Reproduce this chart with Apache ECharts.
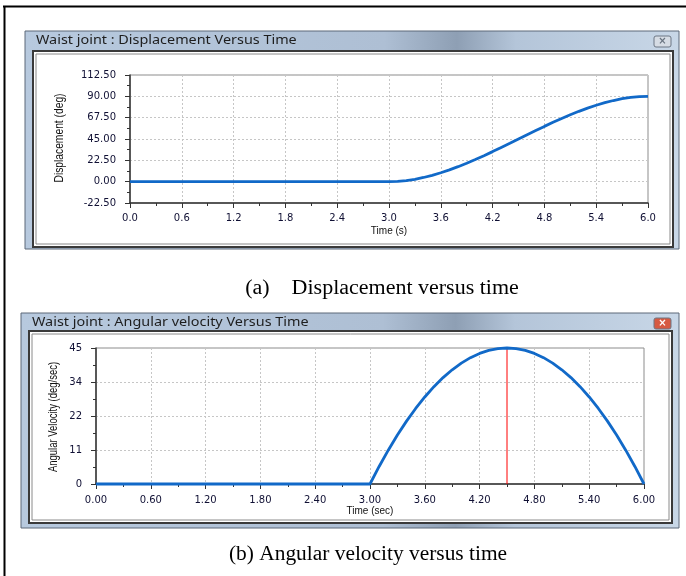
<!DOCTYPE html>
<html>
<head>
<meta charset="utf-8">
<script src="https://cdn.jsdelivr.net/npm/echarts@6/dist/echarts.min.js"></script>
<style>
  html, body { margin: 0; padding: 0; background: #fff; }
  #chart { width: 686px; height: 576px; }
</style>
</head>
<body>
<div id="chart"></div>
<script>
// time samples (s)
const timeA = [0, 3.0, 3.1, 3.2, 3.3, 3.4, 3.5, 3.6, 3.7, 3.8, 3.9, 4.0, 4.1, 4.2, 4.3, 4.4, 4.5,
  4.6, 4.7, 4.8, 4.9, 5.0, 5.1, 5.2, 5.3, 5.4, 5.5, 5.6, 5.7, 5.8, 5.9, 6.0];
// displacement (deg)
const displacement = [0, 0, 0.3, 1.2, 2.5, 4.4, 6.7, 9.4, 12.4, 15.8, 19.4, 23.3, 27.4, 31.7, 36.1, 40.5, 45.0,
  49.5, 53.9, 58.3, 62.6, 66.7, 70.6, 74.2, 77.6, 80.6, 83.3, 85.6, 87.5, 88.8, 89.7, 90.0];
// angular velocity (deg/sec)
const velocity = [0, 0, 5.8, 11.2, 16.2, 20.8, 25.0, 28.8, 32.2, 35.2, 37.8, 40.0, 41.8, 43.2, 44.2, 44.8, 45.0,
  44.8, 44.2, 43.2, 41.8, 40.0, 37.8, 35.2, 32.2, 28.8, 25.0, 20.8, 16.2, 11.2, 5.8, 0];
// red cursor at the velocity peak
const cursorTime = [4.5, 4.5];
const cursorValue = [0, 45];
const velTickLabels = ['0', '11', '22', '34', '45'];

const dispData = timeA.map((t, i) => [t, displacement[i]]);
const velData = timeA.map((t, i) => [t, velocity[i]]);
const cursorData = cursorTime.map((t, i) => [t, cursorValue[i]]);

const labelFont = { color: '#101034', fontSize: 10, fontFamily: 'DejaVu Sans' };
const gridLine = { show: true, lineStyle: { color: '#c6c6c6', type: [2, 2], width: 1 } };
const axisDark = { show: true, onZero: false, lineStyle: { color: '#333', width: 1.5 } };
const tick = { show: true, length: 5, lineStyle: { color: '#333' } };
const minor = { show: true, splitNumber: 2, length: 3, lineStyle: { color: '#333' } };

const titleBar = {
  type: 'linear', x: 0, y: 0, x2: 1, y2: 0,
  colorStops: [
    { offset: 0, color: '#b7c9de' },
    { offset: 0.55, color: '#aebfd4' },
    { offset: 0.66, color: '#8e9fb4' },
    { offset: 0.75, color: '#b4c5d9' },
    { offset: 1, color: '#c8d7e7' }
  ]
};

// window frame built from graphic elements
function windowFrame(x, y, w, h, panel, title, closeColor, crossColor) {
  return [
    { type: 'rect', z: -10, shape: { x: x, y: y, width: w, height: h },
      style: { fill: titleBar, stroke: '#5d6878', lineWidth: 1 } },
    { type: 'rect', z: -9, shape: panel,
      style: { fill: '#fff', stroke: '#3a3a3a', lineWidth: 2 } },
    { type: 'rect', z: -9, shape: { x: panel.x + 3, y: panel.y + 3, width: panel.width - 6, height: panel.height - 6 },
      style: { fill: 'none', stroke: '#8a8a8a', lineWidth: 1 } },
    { type: 'text', z: -8, x: x + 11, y: y + 10, scaleX: 1.2,
      style: { text: title, fill: '#1e1e1e', font: '12px "Noto Sans"', verticalAlign: 'middle' } },
    { type: 'rect', z: -8, shape: { x: x + w - 25, y: y + 5, width: 17, height: 11, r: 2 },
      style: { fill: closeColor, stroke: '#6c7684', lineWidth: 1 } },
    { type: 'text', z: -7, x: x + w - 16.5, y: y + 10.5,
      style: { text: '×', fill: crossColor, font: 'bold 10px "DejaVu Sans"', align: 'center', verticalAlign: 'middle' } }
  ];
}

// rotated, condensed axis title
function vName(text, x, y, sx) {
  return { type: 'text', z: 5, x: x, y: y, rotation: Math.PI / 2, scaleX: sx,
    style: { text: text, fill: '#111', font: '13px "Liberation Sans"', align: 'center', verticalAlign: 'middle' } };
}

const chart = echarts.init(document.getElementById('chart'));

const option = {
  backgroundColor: '#fff',
  animation: false,
  graphic: [
    { type: 'line', z: -10, shape: { x1: 3, y1: 6.5, x2: 686, y2: 6.5 }, style: { stroke: '#000', lineWidth: 2 } },
    { type: 'line', z: -10, shape: { x1: 4.5, y1: 6, x2: 4.5, y2: 576 }, style: { stroke: '#000', lineWidth: 2 } },
    ...windowFrame(25, 31, 654, 218, { x: 33, y: 51, width: 640, height: 196 },
      'Waist joint : Displacement Versus Time', '#d6dce4', '#6a7480'),
    ...windowFrame(21, 313, 658, 215, { x: 29, y: 331, width: 643, height: 192 },
      'Waist joint : Angular velocity Versus Time', '#d65a42', '#fff'),
    vName('Displacement (deg)', 59, 138, 0.79),
    vName('Angular Velocity (deg/sec)', 53, 417, 0.73),
    { type: 'text', z: -8, x: 382, y: 289, scaleX: 1.1,
      style: { text: '(a)    Displacement versus time', fill: '#000', font: '20px "Liberation Serif"',
        align: 'center', verticalAlign: 'middle' } },
    { type: 'text', z: -8, x: 368, y: 555, scaleX: 1.07,
      style: { text: '(b) Angular velocity versus time', fill: '#000', font: '20px "Liberation Serif"',
        align: 'center', verticalAlign: 'middle' } }
  ],
  grid: [
    { left: 130, right: 38, top: 75, height: 128, show: true, backgroundColor: 'transparent',
      borderColor: '#8c8c8c', borderWidth: 1 },
    { left: 96, right: 42, top: 348, height: 136, show: true, backgroundColor: 'transparent',
      borderColor: '#8c8c8c', borderWidth: 1 }
  ],
  xAxis: [
    { type: 'value', gridIndex: 0, min: 0, max: 6, interval: 0.6,
      name: 'Time (s)', nameLocation: 'middle', nameGap: 23,
      nameTextStyle: { color: '#111', fontSize: 10, fontFamily: 'Liberation Sans' },
      axisLine: axisDark, axisTick: tick, minorTick: minor, splitLine: gridLine,
      axisLabel: Object.assign({ margin: 10, formatter: v => v.toFixed(1) }, labelFont) },
    { type: 'value', gridIndex: 1, min: 0, max: 6, interval: 0.6,
      name: 'Time (sec)', nameLocation: 'middle', nameGap: 21,
      nameTextStyle: { color: '#111', fontSize: 10, fontFamily: 'Liberation Sans' },
      axisLine: axisDark, axisTick: tick, minorTick: minor, splitLine: gridLine,
      axisLabel: Object.assign({ margin: 11, formatter: v => v.toFixed(2) }, labelFont) }
  ],
  yAxis: [
    { type: 'value', gridIndex: 0, min: -22.5, max: 112.5, interval: 22.5,
      axisLine: axisDark, axisTick: tick, minorTick: minor, splitLine: gridLine,
      axisLabel: Object.assign({ margin: 14, formatter: v => v.toFixed(2) }, labelFont) },
    { type: 'value', gridIndex: 1, min: 0, max: 45, interval: 11.25,
      axisLine: axisDark, axisTick: tick, minorTick: minor, splitLine: gridLine,
      axisLabel: Object.assign({ margin: 14, formatter: v => velTickLabels[Math.round(v / 11.25)] }, labelFont) }
  ],
  series: [
    { type: 'line', xAxisIndex: 0, yAxisIndex: 0, data: dispData, showSymbol: false,
      lineStyle: { color: '#1169c8', width: 2.8 }, clip: false },
    { type: 'line', xAxisIndex: 1, yAxisIndex: 1, data: cursorData, showSymbol: false, z: 1,
      lineStyle: { color: '#ff0000', width: 1 }, clip: false },
    { type: 'line', xAxisIndex: 1, yAxisIndex: 1, data: velData, showSymbol: false, z: 3,
      lineStyle: { color: '#1169c8', width: 2.8 }, clip: false }
  ]
};

chart.setOption(option);
</script>
</body>
</html>
